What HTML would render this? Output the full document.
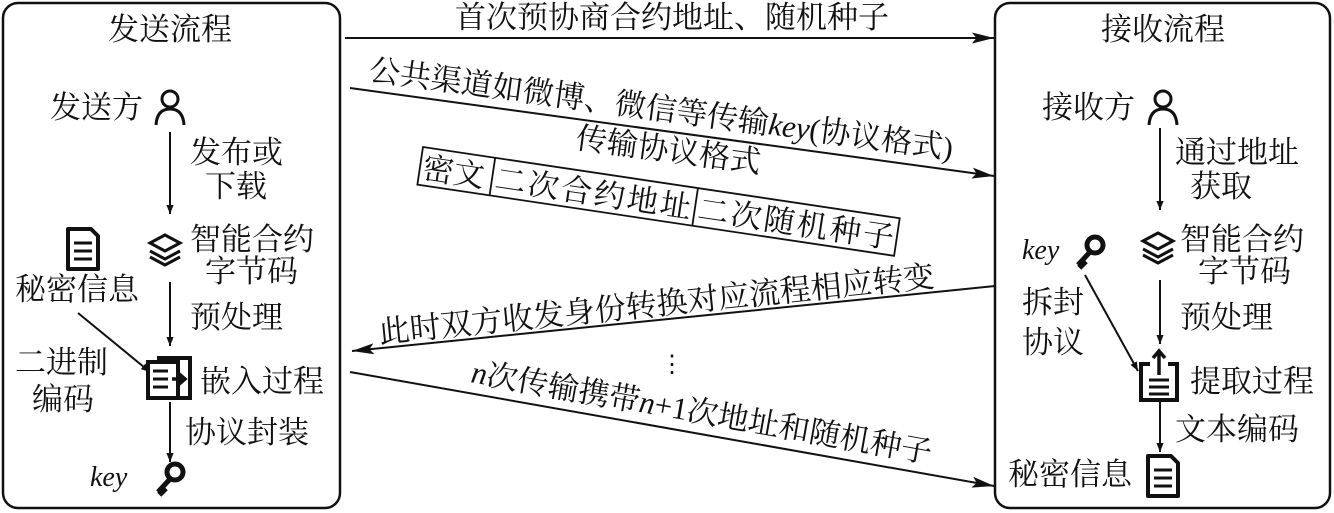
<!DOCTYPE html>
<html><head><meta charset="utf-8"><style>
html,body{margin:0;padding:0;background:#fff}
svg{display:block}
text{font-family:"Liberation Serif","Noto Serif CJK SC","Noto Sans CJK SC",serif;font-size:31px;fill:#111}
.it{font-style:italic;font-family:"Liberation Serif",serif}
</style></head><body>
<svg width="1334" height="513" viewBox="0 0 1334 513" xmlns="http://www.w3.org/2000/svg" font-family="Liberation Serif, Noto Serif CJK SC, serif">
<defs>
<marker id="a" viewBox="0 0 10 10" refX="10" refY="5" markerWidth="9" markerHeight="9" markerUnits="userSpaceOnUse" orient="auto"><path d="M0,1 L10,5 L0,9 z" fill="#111"/></marker>
<marker id="b" viewBox="0 0 20 10" refX="20" refY="5" markerWidth="22" markerHeight="11" markerUnits="userSpaceOnUse" orient="auto"><path d="M0,0 L20,5 L0,10 L4,5 z" fill="#111"/></marker>
<g id="person"><circle cx="0" cy="-9" r="8" fill="none" stroke="#111" stroke-width="3"/><path d="M-14,17 Q-13,1 0,1 Q13,1 14,17" fill="none" stroke="#111" stroke-width="3"/></g>
<g id="layers" fill="#fff" stroke="#111" stroke-width="3"><path d="M-15,10 L0,18 L15,10"/><path d="M-15,4 L0,12 L15,4"/><path d="M-15,-4 L0,-12 L15,-4 L0,4 z"/></g>
<g id="doc"><path d="M-15,-20 H8 L15,-13 V20 H-15 z" fill="#fff" stroke="#111" stroke-width="4" stroke-linejoin="round"/><path d="M-9,-6 H9 M-9,2 H9 M-9,10 H9" stroke="#111" stroke-width="3"/></g>
<g id="key"><circle cx="5" cy="-6" r="8" fill="none" stroke="#111" stroke-width="5"/><path d="M0,1 L-12,14 M-8,10 L-4,14 M-11,13 L-7,17" stroke="#111" stroke-width="5"/></g>
</defs>

<rect x="3" y="3" width="337" height="505" rx="15" fill="none" stroke="#111" stroke-width="2.5"/>
<rect x="995" y="3" width="335" height="505" rx="15" fill="none" stroke="#111" stroke-width="2.5"/>
<text x="170" y="40" text-anchor="middle">发送流程</text>
<text x="1163" y="40" text-anchor="middle">接收流程</text>

<line x1="345" y1="38" x2="994" y2="38" stroke="#111" stroke-width="2" marker-end="url(#b)"/>
<text x="672" y="28" text-anchor="middle">首次预协商合约地址、随机种子</text>

<line x1="350" y1="88" x2="994" y2="176" stroke="#111" stroke-width="2" marker-end="url(#b)"/>
<g transform="translate(368,80) rotate(7.7)">
<text x="0" y="0">公共渠道如微博、微信等传输<tspan class="it">key</tspan>(协议格式)</text>
</g>
<g transform="translate(575,148) rotate(7.7)"><text x="0" y="0">传输协议格式</text></g>
<g transform="translate(423,147) rotate(8.5)">
<rect x="0" y="0" width="482" height="38" fill="#fff" stroke="#111" stroke-width="1.8"/>
<line x1="73" y1="0" x2="73" y2="38" stroke="#111" stroke-width="1.8"/>
<line x1="278" y1="0" x2="278" y2="38" stroke="#111" stroke-width="1.8"/>
<text x="3" y="31">密文</text>
<text x="76" y="31" textLength="198">二次合约地址</text>
<text x="281" y="31" textLength="198">二次随机种子</text>
</g>

<line x1="995" y1="286" x2="352" y2="351" stroke="#111" stroke-width="2" marker-end="url(#b)"/>
<g transform="translate(380,343) rotate(-5.8)"><text x="0" y="0">此时双方收发身份转换对应流程相应转变</text></g>
<text x="672" y="372" text-anchor="middle" style="font-size:24px">⋮</text>

<line x1="350" y1="372" x2="994" y2="486" stroke="#111" stroke-width="2" marker-end="url(#b)"/>
<g transform="translate(470,382) rotate(10)"><text x="0" y="0"><tspan class="it">n</tspan>次传输携带<tspan class="it">n</tspan>+1次地址和随机种子</text></g>

<text x="50" y="118">发送方</text>
<use href="#person" x="170" y="108"/>
<line x1="170" y1="132" x2="170" y2="214" stroke="#111" stroke-width="2" marker-end="url(#a)"/>
<text x="190" y="163">发布或</text>
<text x="205" y="197">下载</text>
<use href="#layers" x="165" y="247"/>
<text x="190" y="250">智能合约</text>
<text x="205" y="282">字节码</text>
<line x1="170" y1="282" x2="170" y2="346" stroke="#111" stroke-width="2" marker-end="url(#a)"/>
<text x="190" y="328">预处理</text>
<use href="#doc" x="83" y="249"/>
<text x="15" y="300">秘密信息</text>
<line x1="78" y1="313" x2="150" y2="372" stroke="#111" stroke-width="2" marker-end="url(#a)"/>
<text x="15" y="373">二进制</text>
<text x="32" y="410">编码</text>
<rect x="159" y="358" width="31" height="40" fill="#fff" stroke="#111" stroke-width="4"/>
<rect x="148" y="362" width="30" height="36" fill="#fff" stroke="#111" stroke-width="4"/>
<path d="M153,371 H168 M153,379 H168 M153,387 H168" stroke="#111" stroke-width="3"/>
<path d="M172,379 H182 M178,373 L185,379 L178,385" fill="none" stroke="#111" stroke-width="3.5"/>
<text x="200" y="392">嵌入过程</text>
<line x1="170" y1="402" x2="170" y2="462" stroke="#111" stroke-width="2" marker-end="url(#a)"/>
<text x="185" y="443">协议封装</text>
<text x="90" y="486" class="it" style="font-size:28px">key</text>
<use href="#key" x="170" y="478"/>

<text x="1042" y="118">接收方</text>
<use href="#person" x="1163" y="108"/>
<line x1="1160" y1="128" x2="1160" y2="210" stroke="#111" stroke-width="2" marker-end="url(#a)"/>
<text x="1175" y="163">通过地址</text>
<text x="1190" y="197">获取</text>
<use href="#layers" x="1158" y="245"/>
<text x="1180" y="250">智能合约</text>
<text x="1198" y="282">字节码</text>
<text x="1022" y="259" class="it" style="font-size:28px">key</text>
<use href="#key" x="1090" y="251"/>
<text x="1022" y="313">拆封</text>
<text x="1022" y="353">协议</text>
<line x1="1085" y1="275" x2="1138" y2="371" stroke="#111" stroke-width="2" marker-end="url(#a)"/>
<line x1="1160" y1="280" x2="1160" y2="344" stroke="#111" stroke-width="2" marker-end="url(#a)"/>
<text x="1180" y="328">预处理</text>
<path d="M1150,364 H1141 V400 H1177 V364 H1168" fill="none" stroke="#111" stroke-width="4"/>
<path d="M1159,375 V352 M1153,358 L1159,351 L1165,358" fill="none" stroke="#111" stroke-width="3.5"/>
<path d="M1149,380 H1169 M1149,387 H1169 M1149,394 H1169" stroke="#111" stroke-width="3"/>
<text x="1190" y="392">提取过程</text>
<line x1="1160" y1="402" x2="1160" y2="452" stroke="#111" stroke-width="2" marker-end="url(#a)"/>
<text x="1175" y="440">文本编码</text>
<text x="1008" y="485">秘密信息</text>
<use href="#doc" x="1163" y="476"/>
</svg>
</body></html>
